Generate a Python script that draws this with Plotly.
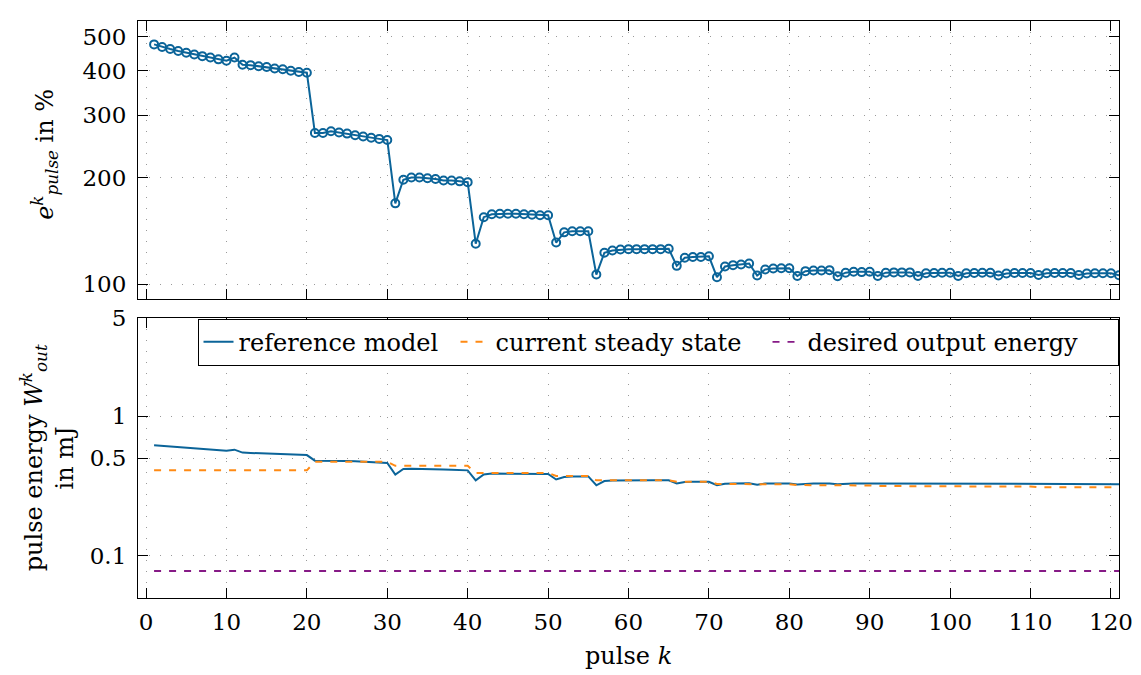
import plotly.graph_objects as go

# pulse index
K = list(range(1, 122))

# pulse error e_pulse^k in %
E_PULSE = [
    475, 467, 461, 455, 450, 445, 440, 436, 431, 427,
    436, 416, 415, 412, 410, 406, 404, 400, 397, 395,
    267, 267, 270, 268, 266, 263, 261, 259, 257, 255,
    169, 197, 200, 200, 199, 198, 196, 196, 195, 194,
    130, 154.5, 157.5, 158, 158, 158, 157.5, 157, 156.5, 156.5,
    131, 140, 141, 141, 141, 106.4, 122.6, 124.4, 125.2, 125.5,
    125.5, 125.5, 125.5, 125.5, 125.8, 112.6, 118.7, 119.3, 119.3, 119.8,
    104.6, 112.1, 113.1, 113.6, 114.3, 105.7, 110.0, 110.7, 110.9, 110.9,
    105.4, 108.8, 109.3, 109.3, 109.5, 105.2, 107.7, 108.3, 108.1, 108.4,
    105.4, 107.7, 107.9, 107.9, 107.9, 105.4, 107.3, 107.5, 107.7, 107.7,
    105.4, 107.3, 107.5, 107.7, 107.7, 105.7, 107.1, 107.5, 107.5, 107.5,
    106.1, 107.3, 107.5, 107.5, 107.5, 106.1, 107.1, 107.3, 107.3, 107.3, 105.9,
]

# output pulse energy of the reference model in mJ
W_REF = [
    0.618, 0.612, 0.606, 0.600, 0.594, 0.588, 0.582, 0.576, 0.570, 0.564,
    0.575, 0.548, 0.545, 0.542, 0.539, 0.536, 0.533, 0.530, 0.528, 0.526,
    0.480, 0.480, 0.481, 0.480, 0.478, 0.475, 0.472, 0.469, 0.466, 0.462,
    0.382, 0.418, 0.420, 0.420, 0.418, 0.417, 0.415, 0.413, 0.411, 0.409,
    0.347, 0.382, 0.388, 0.388, 0.388, 0.388, 0.387, 0.387, 0.386, 0.386,
    0.352, 0.367, 0.370, 0.370, 0.370, 0.320, 0.343, 0.346, 0.347, 0.347,
    0.347, 0.347, 0.347, 0.347, 0.347, 0.330, 0.338, 0.339, 0.339, 0.339,
    0.320, 0.328, 0.330, 0.330, 0.331, 0.323, 0.329, 0.330, 0.330, 0.330,
    0.324, 0.329, 0.330, 0.330, 0.330, 0.325, 0.329, 0.330, 0.330, 0.330,
    0.326, 0.329, 0.329, 0.329, 0.329, 0.326, 0.329, 0.329, 0.329, 0.329,
    0.326, 0.329, 0.329, 0.329, 0.329, 0.326, 0.329, 0.329, 0.329, 0.329,
    0.326, 0.329, 0.329, 0.329, 0.329, 0.326, 0.329, 0.329, 0.329, 0.329, 0.326,
]

# current steady-state energy in mJ
W_STEADY = [
    0.409, 0.409, 0.409, 0.409, 0.409, 0.409, 0.409, 0.409, 0.409, 0.409,
    0.409, 0.409, 0.409, 0.409, 0.409, 0.409, 0.409, 0.409, 0.409, 0.409,
    0.472, 0.472, 0.472, 0.472, 0.472, 0.472, 0.472, 0.472, 0.472, 0.472,
    0.441, 0.441, 0.441, 0.441, 0.441, 0.441, 0.441, 0.441, 0.441, 0.441,
    0.392, 0.392, 0.392, 0.392, 0.392, 0.392, 0.392, 0.392, 0.392, 0.392,
    0.373, 0.373, 0.373, 0.373, 0.373, 0.347, 0.347, 0.347, 0.347, 0.347,
    0.347, 0.347, 0.347, 0.347, 0.347, 0.339, 0.339, 0.339, 0.339, 0.339,
    0.327, 0.327, 0.327, 0.327, 0.327, 0.325, 0.325, 0.325, 0.325, 0.325,
    0.321, 0.321, 0.321, 0.321, 0.321, 0.319, 0.319, 0.319, 0.319, 0.319,
    0.316, 0.316, 0.316, 0.316, 0.316, 0.316, 0.316, 0.316, 0.316, 0.316,
    0.313, 0.313, 0.313, 0.313, 0.313, 0.313, 0.313, 0.313, 0.313, 0.313,
    0.310, 0.310, 0.310, 0.310, 0.310, 0.310, 0.310, 0.310, 0.310, 0.310, 0.310,
]

# desired output energy in mJ
W_DESIRED = [0.078] * len(K)

X_TICKS = list(range(0, 121, 10))
E_TICKS = [100, 200, 300, 400, 500]
W_TICKS = [0.1, 0.5, 1, 5]
W_TICK_TEXT = ["0.1", "0.5", "1", "5"]

BLUE = "#0b6499"
ORANGE = "#ff8a14"
PURPLE = "#861a86"
FONT = "DejaVu Serif"

fig = go.Figure()

fig.add_trace(go.Scatter(
    x=K, y=E_PULSE, mode="lines+markers", xaxis="x", yaxis="y",
    line=dict(color=BLUE, width=2),
    marker=dict(symbol="circle-open", size=8, color=BLUE, line=dict(width=2)),
    showlegend=False,
))
fig.add_trace(go.Scatter(
    x=K, y=W_REF, mode="lines", xaxis="x2", yaxis="y2",
    line=dict(color=BLUE, width=2), name="reference model", legendwidth=212,
))
fig.add_trace(go.Scatter(
    x=K, y=W_STEADY, mode="lines", xaxis="x2", yaxis="y2",
    line=dict(color=ORANGE, width=2, dash="7px,8px"), name="current steady state",
    legendwidth=267,
))
fig.add_trace(go.Scatter(
    x=K, y=W_DESIRED, mode="lines", xaxis="x2", yaxis="y2",
    line=dict(color=PURPLE, width=1.8, dash="7px,8px"), name="desired output energy",
    legendwidth=305,
))

axis_common = dict(
    showline=True, linecolor="black", linewidth=1.2, mirror="ticks",
    ticks="inside", ticklen=10, tickwidth=1.2, tickcolor="black",
    showgrid=True, gridcolor="#9a9a9a", gridwidth=1, griddash="1px,10px",
    zeroline=False, tickfont=dict(family=FONT, size=23, color="black"),
)

fig.update_layout(
    width=1141, height=675,
    margin=dict(l=138, r=22, t=8, b=77),
    paper_bgcolor="white", plot_bgcolor="white",
    font=dict(family=FONT, size=22, color="black"),
    xaxis=dict(axis_common, domain=[0, 1], range=[-1, 121], tickvals=X_TICKS,
               showticklabels=False, anchor="y"),
    yaxis=dict(axis_common, domain=[0.5186, 1], type="log",
               range=[1.9586, 2.7427], tickvals=E_TICKS, ticklabelstandoff=6,
               anchor="x"),
    xaxis2=dict(axis_common, domain=[0, 1], range=[-1, 121], tickvals=X_TICKS,
                ticklabelstandoff=3, anchor="y2"),
    yaxis2=dict(axis_common, domain=[0, 0.4847], type="log",
                range=[-1.30103, 0.69897], tickvals=W_TICKS, ticktext=W_TICK_TEXT,
                ticklabelstandoff=6, anchor="x2"),
    legend=dict(
        orientation="h", x=0.9995, xanchor="right", y=0.484, yanchor="top",
        bgcolor="white", bordercolor="black", borderwidth=1,
        font=dict(family=FONT, size=24, color="black"),
        itemwidth=30, tracegroupgap=0,
    ),
    annotations=[
        dict(text="<i>e</i><sup><i>k</i></sup><sub><i>pulse</i></sub> in %",
             xref="paper", yref="paper", x=0, y=0.768, xshift=-93,
             xanchor="center", yanchor="middle", textangle=-90, showarrow=False,
             font=dict(family=FONT, size=24, color="black")),
        dict(text="pulse energy <i>W</i><sup><i>k</i></sup><sub><i>out</i></sub><br>in mJ",
             xref="paper", yref="paper", x=0, y=0.242, xshift=-91,
             xanchor="center", yanchor="middle", textangle=-90, showarrow=False,
             font=dict(family=FONT, size=24, color="black")),
        dict(text="pulse <i>k</i>", xref="paper", yref="paper", x=0.5, y=-0.1,
             xanchor="center", yanchor="middle", showarrow=False,
             font=dict(family=FONT, size=24, color="black")),
    ],
)

fig.write_html("out.html")
